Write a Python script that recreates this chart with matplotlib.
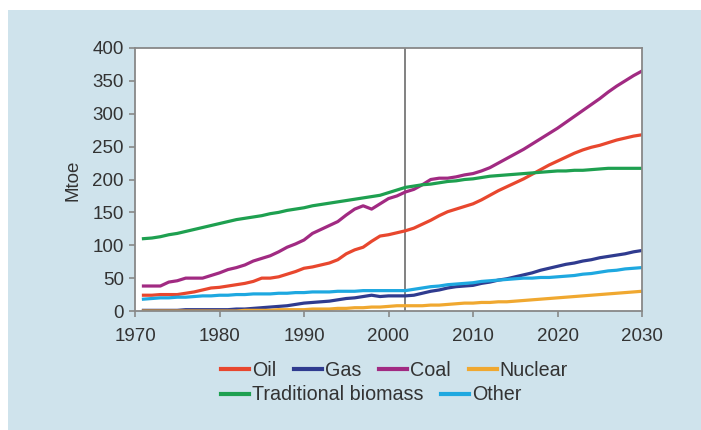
import matplotlib
matplotlib.use("Agg")
import matplotlib.pyplot as plt
from matplotlib.patches import Rectangle

years = list(range(1971, 2031))

oil = [24, 24, 25, 25, 25, 27, 29, 32, 35, 36, 38, 40, 42, 45, 50, 50, 52, 56, 60, 65,
       67, 70, 73, 78, 87, 93, 97, 106, 114, 116, 119, 122, 126, 132, 138, 145, 151, 155, 159, 163,
       169, 176, 183, 189, 195, 201, 208, 215, 222, 228, 234, 240, 245, 249, 252, 256, 260, 263, 266, 268]
gas = [1, 1, 1, 1, 1, 2, 2, 2, 2, 2, 2, 3, 3, 4, 5, 6, 7, 8, 10, 12,
       13, 14, 15, 17, 19, 20, 22, 24, 22, 23, 23, 23, 24, 27, 30, 32, 35, 37, 38, 39,
       42, 44, 47, 49, 52, 55, 58, 62, 65, 68, 71, 73, 76, 78, 81, 83, 85, 87, 90, 92]
coal = [38, 38, 38, 44, 46, 50, 50, 50, 54, 58, 63, 66, 70, 76, 80, 84, 90, 97, 102, 108,
        118, 124, 130, 136, 146, 155, 160, 155, 163, 171, 175, 181, 185, 192, 200, 202, 202, 204, 207, 209,
        213, 218, 225, 232, 239, 246, 254, 262, 270, 278, 287, 296, 305, 314, 323, 333, 342, 350, 358, 365]
nuclear = [0, 0, 0, 0, 0, 0, 0, 0, 0, 0, 0, 0, 1, 1, 1, 1, 2, 2, 2, 2,
           3, 3, 3, 4, 4, 5, 5, 6, 6, 7, 8, 8, 8, 8, 9, 9, 10, 11, 12, 12,
           13, 13, 14, 14, 15, 16, 17, 18, 19, 20, 21, 22, 23, 24, 25, 26, 27, 28, 29, 30]
biomass = [110, 111, 113, 116, 118, 121, 124, 127, 130, 133, 136, 139, 141, 143, 145, 148, 150, 153, 155, 157,
           160, 162, 164, 166, 168, 170, 172, 174, 176, 180, 184, 188, 190, 192, 193, 195, 197, 198, 200, 201,
           203, 205, 206, 207, 208, 209, 210, 211, 212, 213, 213, 214, 214, 215, 216, 217, 217, 217, 217, 217]
other = [18, 19, 20, 20, 21, 21, 22, 23, 23, 24, 24, 25, 25, 26, 26, 26, 27, 27, 28, 28,
         29, 29, 29, 30, 30, 30, 31, 31, 31, 31, 31, 31, 33, 35, 37, 38, 40, 41, 42, 43,
         45, 46, 47, 48, 49, 50, 50, 51, 51, 52, 53, 54, 56, 57, 59, 61, 62, 64, 65, 66]

x_ticks = [1970, 1980, 1990, 2000, 2010, 2020, 2030]
y_ticks = [0, 50, 100, 150, 200, 250, 300, 350, 400]
base_year = 2002

plt.rcParams['font.family'] = ['Liberation Sans', 'DejaVu Sans']

fig = plt.figure(figsize=(7.01, 4.30), dpi=100, facecolor='white')
bg = '#cfe3ec'
fig.patches.append(Rectangle((8/701, -0.05), 1.1, 1.05 - 10/430, transform=fig.transFigure,
                             facecolor=bg, edgecolor='none', zorder=-10))

ax = fig.add_axes([135/701, 1 - 311/430, (642-135)/701, (311-48)/430])
ax.set_facecolor('white')

lw = 2.3
l_oil, = ax.plot(years, oil, color='#e8472e', lw=lw, label='Oil')
l_gas, = ax.plot(years, gas, color='#2f3b8f', lw=lw, label='Gas')
l_coal, = ax.plot(years, coal, color='#a12a82', lw=lw, label='Coal')
l_nuc, = ax.plot(years, nuclear, color='#f0a830', lw=lw, label='Nuclear')
l_bio, = ax.plot(years, biomass, color='#1ea050', lw=lw, label='Traditional biomass')
l_oth, = ax.plot(years, other, color='#1ea8e0', lw=lw, label='Other')

ax.axvline(base_year, color='#777777', lw=1.3, zorder=0.5)

ax.set_xlim(1970, 2030)
ax.set_ylim(0, 400)
ax.set_xticks(x_ticks)
ax.set_yticks(y_ticks)
for s in ax.spines.values():
    s.set_color('#888888')
    s.set_linewidth(1.3)
ax.tick_params(axis='both', colors='#888888', length=4, width=1.2, labelcolor='#333333', labelsize=13.5)
ax.tick_params(axis='x', pad=8)
ax.tick_params(axis='y', pad=4)

fig.text(73/701, 1 - 180/430, 'Mtoe', rotation=90, ha='center', va='center', fontsize=13.5, color='#333333')

leg_kw = dict(frameon=False, fontsize=14.2, handlelength=1.42, handletextpad=0.15,
              columnspacing=0.9, borderpad=0, borderaxespad=0, labelcolor='#333333')
leg1 = fig.legend(handles=[l_oil, l_gas, l_coal, l_nuc], loc='center left',
                  bbox_to_anchor=(221/701, 1 - 370/430), ncol=4, **leg_kw)
leg2 = fig.legend(handles=[l_bio, l_oth], loc='center left',
                  bbox_to_anchor=(221/701, 1 - 395/430), ncol=2, **leg_kw)
for leg in (leg1, leg2):
    for h in leg.legend_handles:
        h.set_linewidth(3)

fig.savefig('out.png', dpi=100, facecolor='white')
